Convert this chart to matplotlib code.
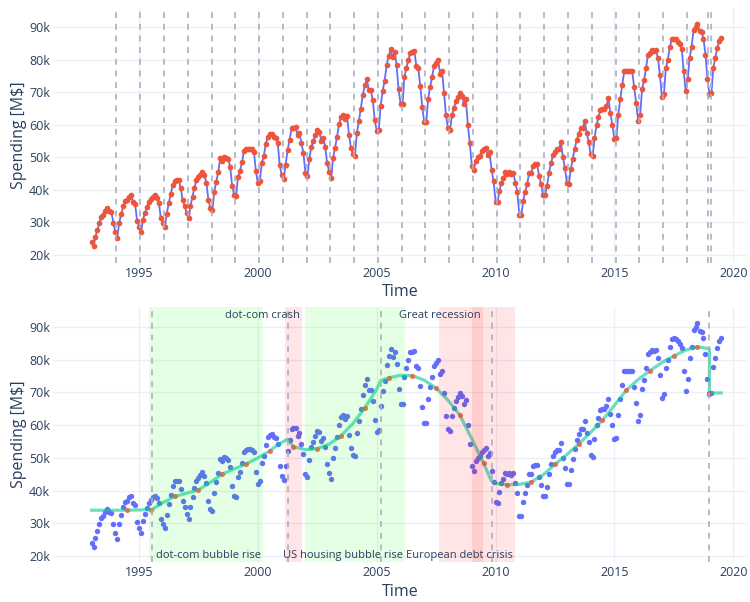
import numpy as np
import pandas as pd
import matplotlib
matplotlib.use("Agg")
import matplotlib.pyplot as plt
import matplotlib.dates as mdates
import matplotlib.transforms as mtransforms
from matplotlib.ticker import FuncFormatter, MultipleLocator

plt.rcParams['font.family'] = ['Open Sans', 'DejaVu Sans']

# ---------------- data ----------------
start_month = "1993-01-01"
# monthly spending, thousands of M$ (Jan 1993 .. Jul 2019)
spending_k = [
    23.9, 22.8, 25.6, 27.7, 29.9, 31.7, 32.3, 33.6, 34.3, 33.6, 33.3, 29.9,  # 1993
    27.0, 25.3, 29.9, 32.5, 35.0, 36.6, 36.8, 37.9, 38.4, 36.3, 35.6, 30.5,  # 1994
    28.7, 27.0, 30.8, 32.8, 34.8, 36.3, 37.1, 37.9, 38.4, 37.6, 36.1, 31.3,  # 1995
    29.9, 28.5, 32.6, 35.9, 38.7, 41.4, 42.8, 43.0, 43.0, 40.6, 36.9, 35.0,  # 1996
    32.8, 31.2, 35.1, 37.9, 40.7, 43.0, 43.8, 44.7, 45.6, 44.5, 42.2, 36.9,  # 1997
    34.5, 33.8, 39.4, 42.5, 45.4, 49.7, 48.9, 50.2, 49.9, 49.4, 47.1, 41.3,  # 1998
    38.4, 38.1, 44.0, 45.8, 48.4, 51.9, 52.5, 52.7, 52.7, 52.4, 51.7, 45.8,  # 1999
    42.0, 42.8, 48.3, 50.5, 54.0, 56.3, 57.1, 57.3, 56.3, 56.0, 54.3, 47.6,  # 2000
    44.5, 43.3, 47.6, 52.2, 55.3, 58.9, 59.1, 59.2, 56.8, 57.5, 54.3, 51.2,  # 2001
    45.2, 44.2, 49.4, 53.2, 54.9, 56.8, 58.3, 57.8, 55.1, 56.0, 53.2, 48.1,  # 2002
    45.5, 43.5, 49.8, 52.9, 56.3, 60.1, 62.4, 63.1, 61.9, 62.7, 57.0, 53.0,  # 2003
    50.9, 50.5, 57.6, 61.1, 65.0, 69.1, 72.1, 74.0, 70.6, 70.6, 67.5, 61.4,  # 2004
    58.0, 58.5, 65.8, 70.3, 73.5, 78.3, 81.1, 83.2, 80.8, 82.4, 78.5, 71.1,  # 2005
    66.5, 66.3, 74.7, 77.5, 79.8, 82.2, 82.4, 82.7, 78.1, 77.3, 71.9, 65.5,  # 2006
    60.7, 60.7, 67.9, 71.6, 74.7, 78.1, 79.0, 80.0, 75.7, 76.5, 69.8, 62.9,  # 2007
    58.9, 58.3, 62.9, 65.2, 67.2, 68.6, 69.9, 68.9, 66.5, 67.8, 59.9, 54.3,  # 2008
    47.4, 46.1, 48.9, 50.0, 50.5, 51.9, 52.5, 52.9, 50.7, 51.5, 46.1, 42.7,  # 2009
    36.4, 36.2, 39.7, 42.2, 43.5, 45.5, 45.0, 45.5, 44.8, 45.3, 42.2, 39.4,  # 2010
    32.3, 32.3, 36.6, 39.4, 41.7, 45.2, 45.2, 47.4, 47.8, 47.8, 44.3, 41.8,  # 2011
    38.4, 38.4, 41.2, 45.2, 48.1, 50.7, 51.7, 52.4, 52.4, 54.6, 50.0, 46.8,  # 2012
    42.0, 41.9, 46.3, 49.6, 52.7, 55.3, 57.3, 58.9, 58.9, 61.1, 57.6, 54.8,  # 2013
    50.9, 50.4, 55.8, 59.9, 62.3, 64.5, 64.8, 65.0, 65.8, 68.1, 63.5, 59.9,  # 2014
    55.6, 56.0, 63.1, 67.9, 72.1, 76.4, 76.6, 76.4, 76.5, 76.4, 71.6, 66.8,  # 2015
    61.1, 63.0, 70.9, 73.7, 77.3, 81.6, 82.2, 82.9, 82.6, 82.9, 80.5, 75.2,  # 2016
    68.4, 69.4, 77.3, 80.0, 83.8, 86.3, 86.5, 86.3, 85.6, 84.8, 83.4, 76.4,  # 2017
    70.3, 74.0, 80.5, 83.9, 89.0, 90.0, 91.1, 88.8, 88.5, 86.5, 81.6, 74.2,  # 2018
    69.4, 69.8, 77.6, 80.5, 83.6, 85.8, 86.7,                                # 2019
]

# seasonal change points (top panel)
season_changepoints = [
    "1994-01-18", "1995-01-18", "1996-01-18", "1997-01-18", "1998-01-18",
    "1999-01-18", "2000-01-18", "2001-01-18", "2002-01-18", "2003-01-18",
    "2004-01-18", "2005-01-18", "2006-01-18", "2007-01-18", "2008-01-18",
    "2009-01-18", "2010-01-18", "2011-01-18", "2012-01-18", "2013-01-18",
    "2014-01-18", "2015-01-18", "2016-01-18", "2017-01-18", "2018-01-18",
    "2018-12-14", "2019-01-25",
]

# trend (bottom panel), thousands of M$
trend_dates = [
    "1993-01-01", "1994-01-01", "1994-07-01", "1995-01-01", "1995-07-15",
    "1996-01-01", "1996-07-01", "1997-01-01", "1997-07-01", "1998-01-01",
    "1998-07-01", "1999-01-01", "1999-07-01", "2000-01-01", "2000-07-01",
    "2000-11-01", "2001-04-01", "2001-07-01", "2002-01-01", "2002-07-01",
    "2003-01-01", "2003-07-01", "2004-01-01", "2004-07-01", "2005-01-01",
    "2005-03-01", "2005-07-01", "2006-01-01", "2006-07-01", "2007-01-01",
    "2007-07-01", "2008-01-01", "2008-07-01", "2009-01-01", "2009-07-01",
    "2009-11-01", "2010-01-01", "2010-07-01", "2011-01-01", "2011-07-01",
    "2012-01-01", "2012-07-01", "2013-01-01", "2013-07-01", "2014-01-01",
    "2014-07-01", "2015-01-01", "2015-07-01", "2016-01-01", "2016-07-01",
    "2017-01-01", "2017-07-01", "2018-01-01", "2018-07-01", "2018-12-31",
    "2019-01-01", "2019-07-01",
]
trend_k = [
    34.0, 34.0, 34.0, 34.1, 34.2,
    36.3, 38.2, 39.2, 40.2, 42.5,
    45.0, 46.6, 48.1, 50.0, 52.1,
    54.0, 55.7, 53.4, 52.5, 52.8,
    54.2, 56.7, 60.5, 65.2, 71.0,
    73.6, 74.4, 75.2, 75.1, 73.7,
    71.3, 67.6, 63.0, 55.8, 48.3,
    42.8, 42.2, 41.8, 41.9, 42.6,
    44.8, 48.0, 51.0, 54.2, 57.8,
    61.5, 66.0, 70.6, 73.9, 76.6,
    79.1, 81.1, 82.9, 83.9, 83.3,
    69.8, 69.8,
]
trend_marker_dates = [
    "1994-07-01", "1995-07-01", "1996-07-01", "1997-07-01", "1998-07-01",
    "1999-07-01", "2000-07-01", "2001-07-01", "2002-07-01", "2003-07-01",
    "2004-07-01", "2005-07-01", "2006-07-01", "2007-07-01", "2008-07-01",
    "2009-07-01", "2010-07-01", "2011-07-01", "2012-07-01", "2013-07-01",
    "2014-07-01", "2015-07-01", "2016-07-01", "2017-07-01", "2018-07-01",
    "2019-01-01",
]
trend_marker_k = [
    34.0, 34.2, 38.2, 40.2, 45.0, 48.1, 52.1, 53.4, 52.8, 56.7,
    65.2, 74.4, 75.1, 71.3, 63.0, 48.3, 41.8, 42.6, 48.0, 54.2,
    61.5, 70.6, 76.6, 81.1, 83.9, 69.8,
]

trend_changepoints = ["1995-07-20", "2001-04-08", "2005-03-05", "2009-11-05", "2019-01-01"]

event_names = ["dot-com bubble rise", "dot-com crash", "US housing bubble rise",
               "Great recession", "European debt crisis"]
event_starts = ["1995-06-01", "2001-02-20", "2001-12-28", "2007-08-10", "2009-01-01"]
event_ends = ["2000-03-20", "2001-11-10", "2006-03-17", "2009-06-15", "2010-10-30"]
event_kinds = ["rise", "fall", "rise", "fall", "fall"]
event_label_pos = ["bottom", "top", "bottom", "top", "bottom"]

# ---------------- styling ----------------
BLUE = "#636efa"
RED = "#ef553b"
GREEN = "#00cc96"
TXT = "#2a3f5f"
GRID = "#EBF0F8"
VLINE = "#a9b0bc"

W, H = 750, 602
fig = plt.figure(figsize=(W / 100, H / 100), dpi=100)
left_px, right_px = 53, 747
ax1 = fig.add_axes([left_px / W, 1 - 263 / H, (right_px - left_px) / W, 255 / H])
ax2 = fig.add_axes([left_px / W, 40 / H, (right_px - left_px) / W, 255.5 / H])

dates = pd.date_range(start_month, periods=len(spending_k), freq="MS")
spending = np.array(spending_k) * 1000

xmin = pd.Timestamp("1991-05-19")
xmax = pd.Timestamp("2020-07-31")

kfmt = FuncFormatter(lambda v, p: f"{int(round(v / 1000))}k")

for ax, ylim in ((ax1, (17500, 95900)), (ax2, (18200, 96200))):
    ax.set_xlim(xmin, xmax)
    ax.set_ylim(*ylim)
    for s in ax.spines.values():
        s.set_visible(False)
    ax.grid(True, color=GRID, lw=1.0)
    ax.set_axisbelow(True)
    ax.xaxis.set_major_locator(mdates.YearLocator(5))
    ax.xaxis.set_major_formatter(mdates.DateFormatter("%Y"))
    ax.yaxis.set_major_locator(MultipleLocator(10000))
    ax.yaxis.set_major_formatter(kfmt)
    ax.tick_params(length=0, labelsize=9, colors=TXT, pad=3)
    ax.tick_params(axis="y", pad=2)

# ---- top panel ----
ax1.plot(dates, spending, color=BLUE, lw=1.3, zorder=2)
ax1.plot(dates, spending, ls="none", marker="o", ms=4.1, mfc=RED, mec=RED, mew=0, zorder=3)
for d in season_changepoints:
    ax1.axvline(pd.Timestamp(d), color=VLINE, lw=1.2, dashes=(3.5, 3.5), zorder=4)

# ---- bottom panel ----
ax2.plot(dates, spending, ls="none", marker="o", ms=3.9, mfc=BLUE, mec=BLUE, mew=0, zorder=2)
ax2.plot(pd.to_datetime(trend_dates), np.array(trend_k) * 1000, color=GREEN, lw=2.3,
         alpha=0.6, solid_joinstyle="round", zorder=3)
ax2.plot(pd.to_datetime(trend_marker_dates), np.array(trend_marker_k) * 1000, ls="none",
         marker="o", ms=3.7, mfc=RED, mec=RED, mew=0, alpha=0.8, zorder=4)

for name, s, e, kind, pos in zip(event_names, event_starts, event_ends, event_kinds, event_label_pos):
    col = "#00ff00" if kind == "rise" else "#ff0000"
    ax2.axvspan(pd.Timestamp(s), pd.Timestamp(e), color=col, alpha=0.1, lw=0, zorder=5)
    trans = mtransforms.blended_transform_factory(ax2.transData, ax2.transAxes)
    if pos == "top":
        tr = mtransforms.offset_copy(trans, fig=fig, x=-2, y=-3, units="dots")
        ax2.text(pd.Timestamp(e), 1.0, name, transform=tr, ha="right", va="top",
                 fontsize=8, color=TXT, zorder=7)
    else:
        tr = mtransforms.offset_copy(trans, fig=fig, x=-2, y=1, units="dots")
        ax2.text(pd.Timestamp(e), 0.0, name, transform=tr, ha="right", va="bottom",
                 fontsize=8, color=TXT, zorder=7)

for d in trend_changepoints:
    ax2.axvline(pd.Timestamp(d), color=VLINE, lw=1.2, dashes=(3.5, 3.5), zorder=6)

# axis titles
cx = (left_px + right_px) / 2 / W
fig.text(cx, 1 - 292 / H, "Time", ha="center", va="center", fontsize=11.5, color=TXT)
fig.text(cx, 1 - 592 / H, "Time", ha="center", va="center", fontsize=11.5, color=TXT)
fig.text(19 / W, 1 - 135.5 / H, "Spending [M$]", rotation=90, ha="center", va="center",
         fontsize=11.5, color=TXT)
fig.text(19 / W, 1 - 434 / H, "Spending [M$]", rotation=90, ha="center", va="center",
         fontsize=11.5, color=TXT)

fig.savefig("out.png", dpi=100, facecolor="white")
